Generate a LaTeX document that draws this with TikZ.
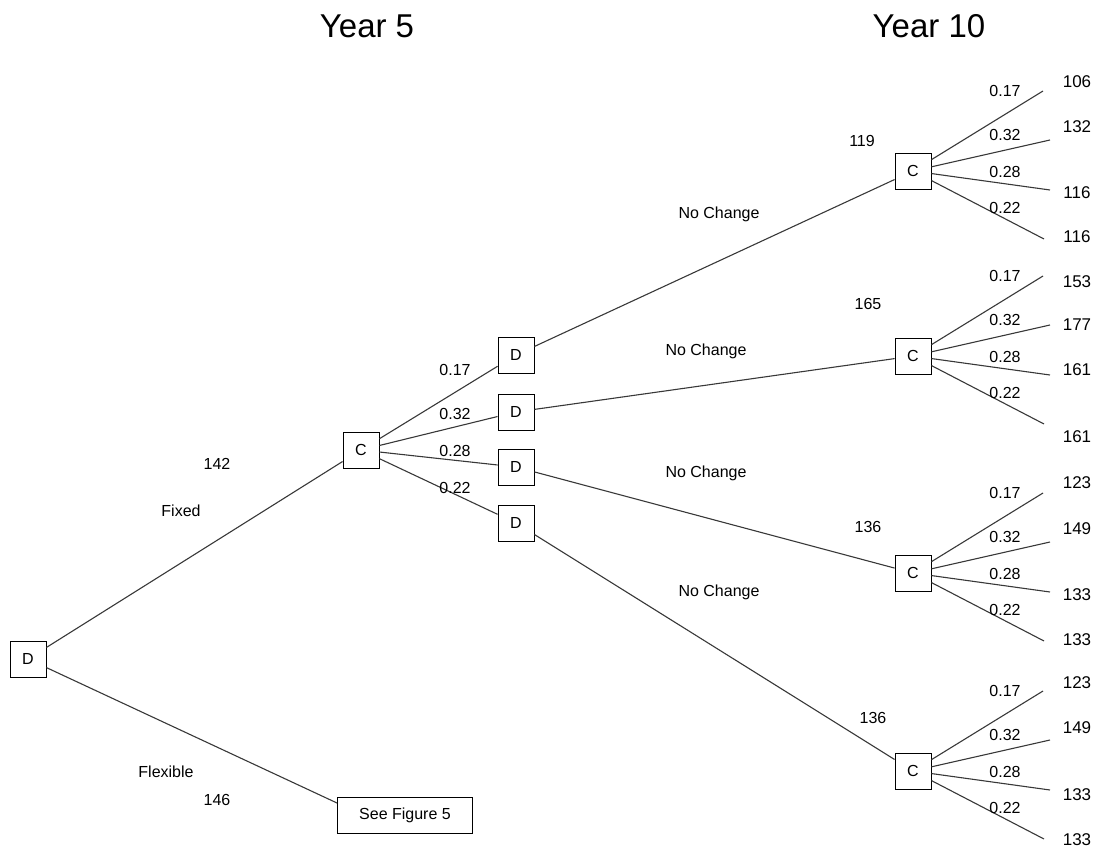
\documentclass[tikz,border=0pt]{standalone}
\usepackage{fontspec}
\setmainfont{Liberation Sans}
\usetikzlibrary{positioning, calc}
\tikzstyle{decision} = [rectangle, draw, line width=0.9pt, minimum size=36pt, inner sep=0pt, fill=white, font=\fontsize{16}{18}\selectfont]
\tikzstyle{chance}   = [rectangle, draw, line width=0.9pt, minimum size=36pt, inner sep=0pt, fill=white, font=\fontsize{16}{18}\selectfont]
\tikzstyle{branch}   = [line width=1.1pt, black!78]
\tikzstyle{lbl}      = [inner sep=0pt, font=\fontsize{16}{18}\selectfont]
\tikzstyle{payoff}   = [inner sep=0pt, font=\fontsize{17}{19}\selectfont]
\tikzstyle{year}     = [inner sep=0pt, font=\fontsize{33}{36}\selectfont]

\begin{document}
\begin{tikzpicture}[x=1pt, y=-1pt]
	\useasboundingbox (0,0) rectangle (1110,850);

	% Headings
	\node (year5) [year] at (367,26) {Year 5};
	\node (year10) [year] at (929,26) {Year 10};

	% Decision and chance nodes
	\node (dRoot) [decision] at (28,659) {D};
	\node (cFix) [chance] at (361,450) {C};
	\node (seeFig) [decision, minimum width=135pt] at (405,815) {See Figure 5};

	\node (dA) [decision] at (516,355) {D};
	\node (dB) [decision] at (516,412) {D};
	\node (dC) [decision] at (516,467) {D};
	\node (dD) [decision] at (516,523) {D};

	\node (cA) [chance] at (913,171) {C};
	\node (cB) [chance] at (913,356) {C};
	\node (cC) [chance] at (913,573) {C};
	\node (cD) [chance] at (913,771) {C};

	% Year 5 branches
	\draw[branch] (dRoot) -- (cFix);
	\draw[branch] (dRoot) -- (seeFig.170);
	\node (fixed) [lbl] at (181,511) {Fixed};
	\node (valFix) [lbl] at (217,464) {142};
	\node (flex) [lbl] at (166,772) {Flexible};
	\node (valFlex) [lbl] at (217,800) {146};

	\draw[branch] (cFix) -- (dA);
	\draw[branch] (cFix) -- (dB);
	\draw[branch] (cFix) -- (dC);
	\draw[branch] (cFix) -- (dD);
	\node (pA) [lbl] at (455,370) {0.17};
	\node (pB) [lbl] at (455,414) {0.32};
	\node (pC) [lbl] at (455,451) {0.28};
	\node (pD) [lbl] at (455,488) {0.22};

	% No change branches
	\draw[branch] (dA) -- (cA);
	\draw[branch] (dB) -- (cB);
	\draw[branch] (dC) -- (cC);
	\draw[branch] (dD) -- (cD);
	\node (ncA) [lbl] at (719,214) {No Change};
	\node (ncB) [lbl] at (706,351) {No Change};
	\node (ncC) [lbl] at (706,473) {No Change};
	\node (ncD) [lbl] at (719,592) {No Change};

	\node (valA) [lbl] at (862,141) {119};
	\node (valB) [lbl] at (868,304) {165};
	\node (valC) [lbl] at (868,527) {136};
	\node (valD) [lbl] at (873,718) {136};

	% Year 10 chance branches
	\foreach \cn in {cA, cB, cC, cD} {
		\foreach \p/\dx/\dy/\ly [count=\i] in {0.17/130/-80/-80, 0.32/137/-31/-36, 0.28/137/19/1, 0.22/131/68/37} {
			\coordinate (\cn-end\i) at ($(\cn)+(\dx,\dy)$);
			\draw[branch] (\cn) -- (\cn-end\i);
			\node (\cn-prob\i) [lbl] at ($(\cn)+(92,\ly)$) {\p};
		}
	}
	\foreach \cn/\pays in {cA/{106/-89,132/-44,116/22,116/66}, cB/{153/-74,177/-31,161/14,161/81}, cC/{123/-90,149/-44,133/22,133/67}, cD/{123/-88,149/-43,133/24,133/69}} {
		\foreach \val/\py [count=\i] in \pays {
			\node (\cn-pay\i) [payoff] at ($(\cn)+(164,\py)$) {\val};
		}
	}

\end{tikzpicture}
\end{document}
